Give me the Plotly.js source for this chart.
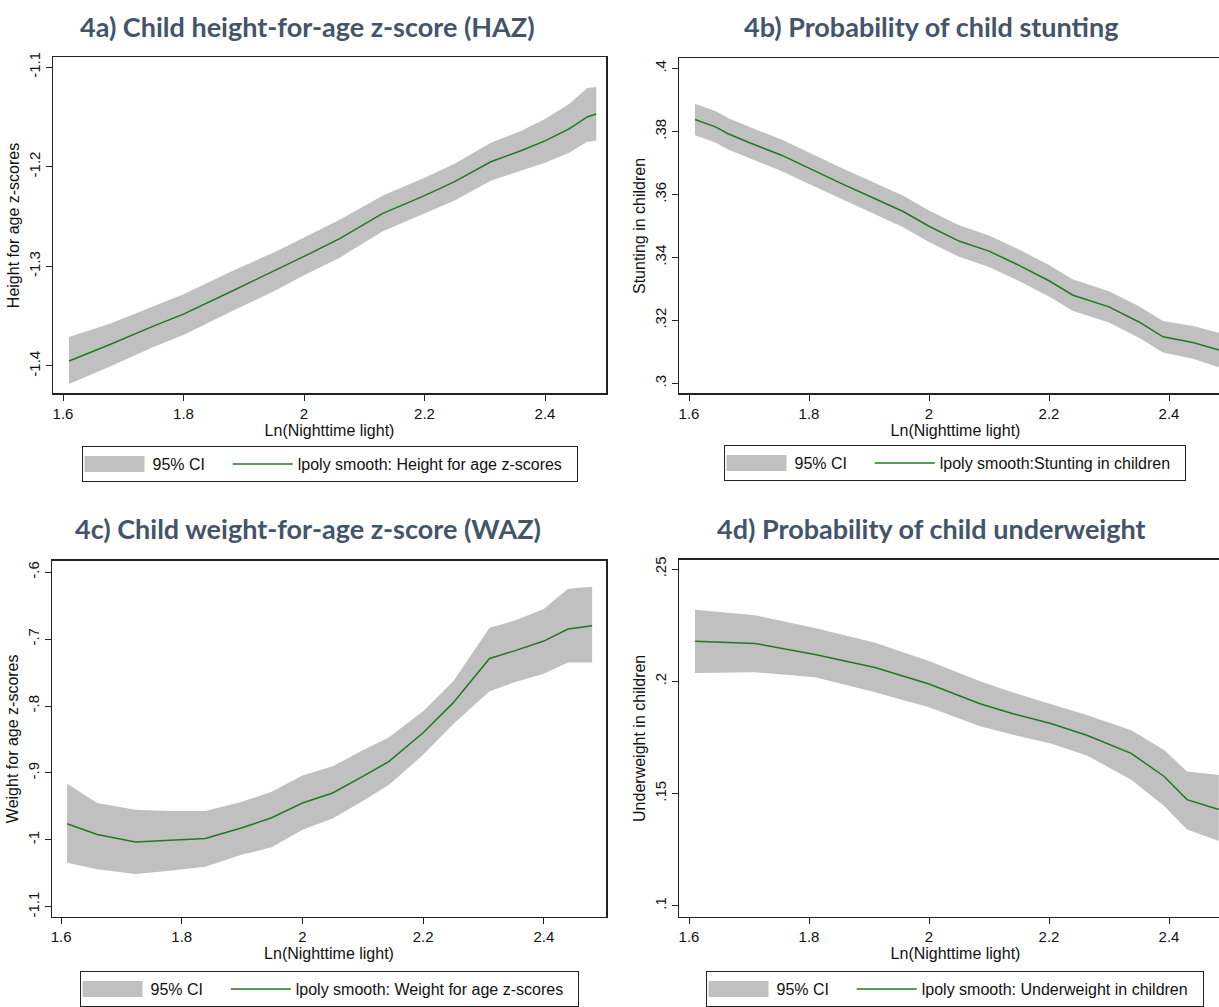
<!DOCTYPE html>
<html>
<head>
<meta charset="utf-8">
<script src="https://cdn.plot.ly/plotly-3.0.1.min.js"></script>
<style>
html, body { margin:0; padding:0; overflow:hidden; background:#fff; }
#chart { width:1240px; height:1007px; }
</style>
</head>
<body>
<div id="chart"></div>
<script>
// ---------- DATA ----------
// 4a) Child height-for-age z-score (HAZ)
var xA    = [1.61, 1.68, 1.75, 1.80, 1.88, 1.95, 2.00, 2.06, 2.13, 2.20, 2.25, 2.31, 2.36, 2.40, 2.44, 2.47, 2.485];
var lineA = [-1.395, -1.378, -1.360, -1.348, -1.325, -1.305, -1.290, -1.272, -1.247, -1.229, -1.215, -1.195, -1.184, -1.174, -1.162, -1.150, -1.147];
var upA   = [-1.371, -1.357, -1.340, -1.328, -1.305, -1.286, -1.271, -1.253, -1.229, -1.211, -1.197, -1.176, -1.164, -1.152, -1.137, -1.121, -1.120];
var loA   = [-1.418, -1.400, -1.381, -1.369, -1.345, -1.325, -1.309, -1.291, -1.265, -1.247, -1.234, -1.214, -1.204, -1.196, -1.186, -1.175, -1.174];

// 4b) Probability of child stunting
var xB    = [1.61, 1.645, 1.665, 1.70, 1.755, 1.80, 1.857, 1.90, 1.957, 2.00, 2.05, 2.10, 2.15, 2.20, 2.24, 2.30, 2.35, 2.39, 2.44, 2.485];
var lineB = [.3838, .3814, .3793, .3765, .3724, .3683, .3632, .3595, .3546, .3499, .3452, .3420, .3375, .3326, .3280, .3243, .3195, .3148, .3130, .3105];
var upB   = [.3888, .3864, .3843, .3815, .3774, .3733, .3682, .3645, .3596, .3549, .3502, .3470, .3425, .3376, .3330, .3293, .3245, .3198, .3182, .3160];
var loB   = [.3788, .3764, .3743, .3715, .3674, .3633, .3582, .3545, .3496, .3449, .3402, .3370, .3325, .3276, .3230, .3193, .3145, .3098, .3078, .3050];

// 4c) Child weight-for-age z-score (WAZ)
var xC    = [1.61, 1.66, 1.723, 1.78, 1.839, 1.90, 1.949, 2.00, 2.05, 2.10, 2.143, 2.20, 2.25, 2.31, 2.35, 2.40, 2.44, 2.48];
var lineC = [-0.976, -0.992, -1.003, -1.001, -0.998, -0.982, -0.967, -0.945, -0.930, -0.905, -0.883, -0.840, -0.795, -0.729, -0.718, -0.703, -0.685, -0.680];
var upC   = [-0.916, -0.945, -0.955, -0.957, -0.957, -0.943, -0.928, -0.904, -0.890, -0.866, -0.847, -0.808, -0.763, -0.683, -0.673, -0.655, -0.625, -0.622];
var loC   = [-1.034, -1.044, -1.051, -1.046, -1.040, -1.022, -1.011, -0.985, -0.968, -0.942, -0.918, -0.873, -0.827, -0.778, -0.765, -0.752, -0.735, -0.735];

// 4d) Probability of child underweight
var xD    = [1.61, 1.71, 1.81, 1.91, 2.00, 2.085, 2.14, 2.203, 2.263, 2.337, 2.392, 2.43, 2.483];
var lineD = [.2179, .2169, .2120, .2062, .1988, .1900, .1856, .1812, .1760, .1679, .1576, .1473, .1429];
var upD   = [.2319, .2294, .2238, .2172, .2091, .2000, .1950, .1900, .1850, .1782, .1694, .1598, .1583];
var loD   = [.2037, .2041, .2018, .1951, .1885, .1800, .1762, .1723, .1670, .1561, .1444, .1340, .1289];

// Titles, labels, ticks
var panelTitles = ["4a) Child height-for-age z-score (HAZ)", "4b) Probability of child stunting",
                   "4c) Child weight-for-age z-score (WAZ)", "4d) Probability of child underweight"];
var yTitles = ["Height for age z-scores", "Stunting in children", "Weight for age z-scores", "Underweight in children"];
var lineNames = ["lpoly smooth: Height for age z-scores", "lpoly smooth:Stunting in children",
                 "lpoly smooth: Weight for age z-scores", "lpoly smooth: Underweight in children"];
var ciName = "95% CI";
var xTitle = "Ln(Nighttime light)";
var xTickVals = [1.6, 1.8, 2, 2.2, 2.4];
var xTickText = ["1.6", "1.8", "2", "2.2", "2.4"];
var yTickValsA = [-1.4, -1.3, -1.2, -1.1];
var yTickTextA = ["-1.4", "-1.3", "-1.2", "-1.1"];
var yTickValsB = [0.30, 0.32, 0.34, 0.36, 0.38, 0.40];
var yTickTextB = [".3", ".32", ".34", ".36", ".38", ".4"];
var yTickValsC = [-1.1, -1.0, -0.9, -0.8, -0.7, -0.6];
var yTickTextC = ["-1.1", "-1", "-.9", "-.8", "-.7", "-.6"];
var yTickValsD = [0.10, 0.15, 0.20, 0.25];
var yTickTextD = [".1", ".15", ".2", ".25"];

// ---------- LAYOUT / DRAW ----------
var W = 1240, H = 1007;
var CI_COLOR = "#c0c0c0", LINE_COLOR = "#1f7a1f", TITLE_COLOR = "#44546A";
var FONT = "Liberation Sans, Arial, sans-serif";
var tickFont = {family: FONT, size: 15, color: "#111"};
var labFont = {family: FONT, size: 16, color: "#111"};
var NB = "\u00a0";

function band(x, up, lo, xa, ya, leg) {
  return {x: x.concat(x.slice().reverse()), y: up.concat(lo.slice().reverse()),
          type: "scatter", mode: "lines", fill: "toself", fillcolor: CI_COLOR,
          line: {width: 0, color: CI_COLOR}, name: ciName + NB + NB + NB + NB, xaxis: xa, yaxis: ya,
          legend: leg, hoverinfo: "skip"};
}
function curve(x, y, name, xa, ya, leg) {
  return {x: x, y: y, type: "scatter", mode: "lines", line: {color: LINE_COLOR, width: 1.5},
          name: name + NB + NB, xaxis: xa, yaxis: ya, legend: leg};
}

var traces = [
  band(xA, upA, loA, "x", "y", "legend"), curve(xA, lineA, lineNames[0], "x", "y", "legend"),
  band(xB, upB, loB, "x2", "y2", "legend2"), curve(xB, lineB, lineNames[1], "x2", "y2", "legend2"),
  band(xC, upC, loC, "x3", "y3", "legend3"), curve(xC, lineC, lineNames[2], "x3", "y3", "legend3"),
  band(xD, upD, loD, "x4", "y4", "legend4"), curve(xD, lineD, lineNames[3], "x4", "y4", "legend4")
];

// boxes in pixels: [left, right, top, bottom]
var boxes = [[53, 606, 58, 397], [679, 1232, 59, 397], [52, 606, 566, 925], [679, 1232, 565, 925]];
var yRanges = [[-1.4276, -1.0903], [0.2968, 0.4032], [-1.1148, -0.5833], [0.0951, 0.2541]];
var xRanges = [[1.5834, 2.5012], [1.5833, 2.5050], [1.5850, 2.5030], [1.5833, 2.5050]];
var yTV = [yTickValsA, yTickValsB, yTickValsC, yTickValsD];
var yTT = [yTickTextA, yTickTextB, yTickTextC, yTickTextD];
var legendTops = [450, 449, 980, 980];
var legendCenters = [329.5, 954.5, 329, 954.5];
var titleCenters = [[307, 27], [931, 27], [308, 533], [931, 533]];

var layout = {
  width: W, height: H, margin: {l: 0, r: 0, t: 0, b: 0},
  paper_bgcolor: "#fff", plot_bgcolor: "#fff", showlegend: true,
  annotations: [], shapes: []
};

for (var i = 0; i < 4; i++) {
  var b = boxes[i], sfx = i === 0 ? "" : String(i + 1);
  layout["xaxis" + sfx] = {
    domain: [b[0] / W, b[1] / W], range: xRanges[i], anchor: "y" + sfx,
    tickmode: "array", tickvals: xTickVals, ticktext: xTickText,
    ticks: "outside", ticklen: 6, tickwidth: 1, tickcolor: "#222",
    showline: true, linecolor: "#222", linewidth: 1.5, mirror: true,
    showgrid: false, zeroline: false, tickfont: tickFont,
    title: {text: xTitle, font: labFont, standoff: 1}
  };
  layout["yaxis" + sfx] = {
    domain: [1 - b[3] / H, 1 - b[2] / H], range: yRanges[i], anchor: "x" + sfx,
    tickmode: "array", tickvals: yTV[i], ticktext: yTT[i], tickangle: -90,
    ticks: "outside", ticklen: 6, tickwidth: 1, tickcolor: "#222",
    showline: true, linecolor: "#222", linewidth: 1.5, mirror: true,
    showgrid: false, zeroline: false, tickfont: tickFont,
    title: {text: yTitles[i], font: labFont, standoff: 2}
  };
  layout["legend" + sfx] = {
    x: legendCenters[i] / W, xanchor: "center", y: 1 - legendTops[i] / H, yanchor: "top",
    orientation: "h", bordercolor: "#222", borderwidth: 1, bgcolor: "#fff",
    font: labFont, itemwidth: 60, traceorder: "normal"
  };
  layout.annotations.push({
    text: "<b>" + panelTitles[i] + "</b>", xref: "paper", yref: "paper",
    x: titleCenters[i][0] / W, y: 1 - titleCenters[i][1] / H, xanchor: "center", yanchor: "middle",
    showarrow: false, font: {family: "Lato, Open Sans, sans-serif", size: 27, color: TITLE_COLOR}
  });
}

Plotly.newPlot("chart", traces, layout, {displayModeBar: false, staticPlot: true}).then(function (gd) {
  // make the CI legend swatch a tall block like the original
  var fills = gd.querySelectorAll(".legendfill path");
  fills.forEach(function (p) {
    var d = p.getAttribute("d");
    if (d) p.setAttribute("d", "M2,-8h60v16h-60z");
  });
});
</script>
</body>
</html>
